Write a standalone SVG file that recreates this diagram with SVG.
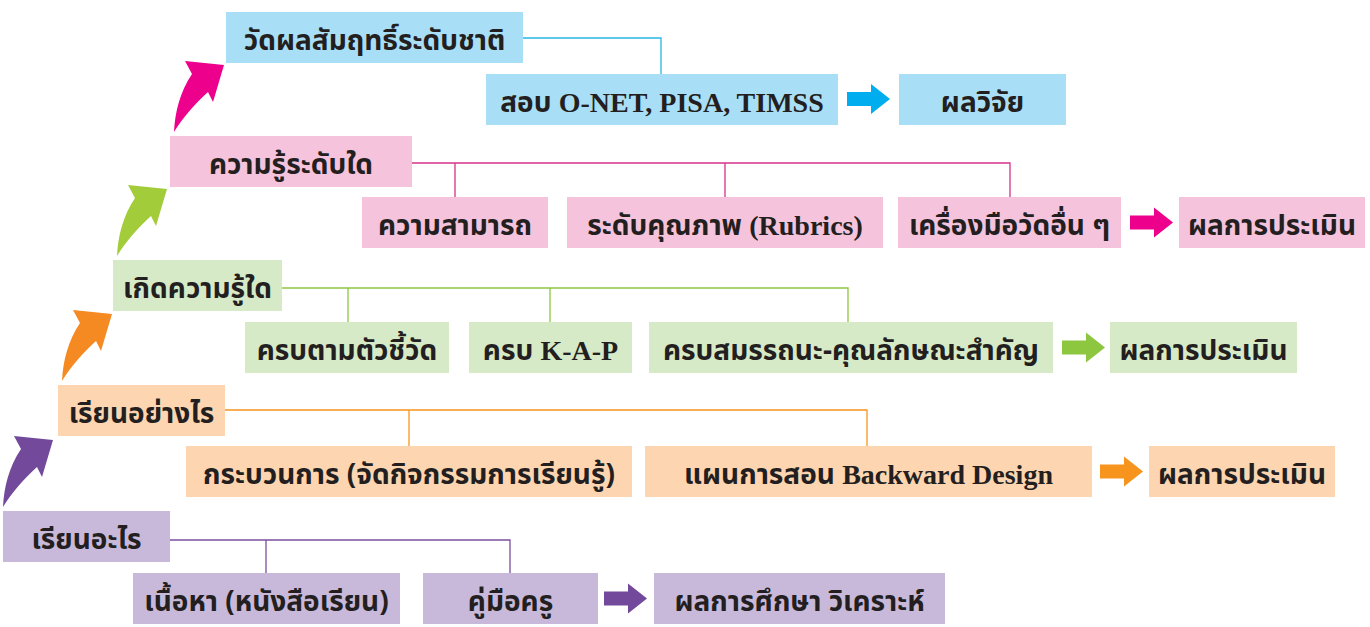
<svg xmlns="http://www.w3.org/2000/svg" width="1370" height="627" viewBox="0 0 1370 627">
<style>
text{font-family:"Noto Sans Thai","Noto Sans","DejaVu Sans",sans-serif;font-weight:bold;font-size:28px;fill:#231f20;text-anchor:middle}
.lat{font-family:"Liberation Serif",serif}
.blue rect{fill:#a9def7}
.pink rect{fill:#f5c3dc}
.green rect{fill:#d7eac7}
.orange rect{fill:#fdd5b0}
.purple rect{fill:#c8b9db}
.con path{fill:none;stroke-width:1.3}
</style>
<defs>
<path id="curve" d="M0,0 C1,-20 6,-40 18,-58 L11,-71 L50,-67 L39,-30 L34,-40 C22,-29 9,-15 0,0 Z"/>
<path id="block" d="M0,-7 H24 V-15 L43,0 L24,15 V7 H0 Z"/>
</defs>
<g id="connectors" class="con">
<path d="M523,38 H661 V74" stroke="#29b6e8"/>
<path d="M412,163 H1010 V197 M455,163 V197 M725,163 V197" stroke="#d6338a"/>
<path d="M282,288 H848 V322 M348,288 V322 M550,288 V322" stroke="#8dc63f"/>
<path d="M225,410 H867 V446 M409,410 V446" stroke="#f7941d"/>
<path d="M170,540 H510 V573 M266,540 V573" stroke="#7b4f9e"/>
</g>
<g id="arrows">
<use href="#curve" x="3" y="507" fill="#734a9b"/>
<use href="#curve" x="62" y="381" fill="#f58a22"/>
<use href="#curve" x="117" y="256" fill="#a2cc3a"/>
<use href="#curve" x="174" y="132" fill="#ec008c"/>
<use href="#block" x="847" y="99" fill="#00aeef"/>
<use href="#block" x="1130" y="222.5" fill="#ec008c"/>
<use href="#block" x="1062" y="347.5" fill="#8dc63f"/>
<use href="#block" x="1100" y="471.5" fill="#f7941d"/>
<use href="#block" x="604" y="598.5" fill="#734a9b"/>
</g>
<g id="n1" class="blue"><rect x="226" y="12" width="297" height="51"/><text x="374.5" y="50">วัดผลสัมฤทธิ์ระดับชาติ</text></g>
<g id="n2" class="blue"><rect x="486" y="74" width="352" height="51"/><text x="662" y="112">สอบ <tspan class="lat">O-NET, PISA, TIMSS</tspan></text></g>
<g id="n3" class="blue"><rect x="899" y="74" width="167" height="51"/><text x="982.5" y="112">ผลวิจัย</text></g>
<g id="n4" class="pink"><rect x="170" y="136" width="242" height="51"/><text x="291" y="174">ความรู้ระดับใด</text></g>
<g id="n5" class="pink"><rect x="362" y="197" width="186" height="51"/><text x="455" y="235">ความสามารถ</text></g>
<g id="n6" class="pink"><rect x="567" y="197" width="316" height="51"/><text x="725" y="235">ระดับคุณภาพ <tspan class="lat">(Rubrics)</tspan></text></g>
<g id="n7" class="pink"><rect x="898" y="197" width="223" height="51"/><text x="1009.5" y="235">เครื่องมือวัดอื่น ๆ</text></g>
<g id="n8" class="pink"><rect x="1179" y="197" width="186" height="51"/><text x="1272" y="235">ผลการประเมิน</text></g>
<g id="n9" class="green"><rect x="113" y="260" width="169" height="51"/><text x="197.5" y="298">เกิดความรู้ใด</text></g>
<g id="n10" class="green"><rect x="245" y="322" width="204" height="51"/><text x="347" y="360">ครบตามตัวชี้วัด</text></g>
<g id="n11" class="green"><rect x="469" y="322" width="163" height="51"/><text x="550.5" y="360">ครบ <tspan class="lat">K-A-P</tspan></text></g>
<g id="n12" class="green"><rect x="649" y="322" width="404" height="51"/><text x="851" y="360">ครบสมรรถนะ-คุณลักษณะสำคัญ</text></g>
<g id="n13" class="green"><rect x="1110" y="322" width="187" height="51"/><text x="1203.5" y="360">ผลการประเมิน</text></g>
<g id="n14" class="orange"><rect x="58" y="385" width="167" height="51"/><text x="141.5" y="423">เรียนอย่างไร</text></g>
<g id="n15" class="orange"><rect x="186" y="446" width="446" height="51"/><text x="409" y="484">กระบวนการ (จัดกิจกรรมการเรียนรู้)</text></g>
<g id="n16" class="orange"><rect x="645" y="446" width="447" height="51"/><text x="868.5" y="484">แผนการสอน <tspan class="lat">Backward Design</tspan></text></g>
<g id="n17" class="orange"><rect x="1149" y="446" width="186" height="51"/><text x="1242" y="484">ผลการประเมิน</text></g>
<g id="n18" class="purple"><rect x="3" y="511" width="167" height="51"/><text x="86.5" y="549">เรียนอะไร</text></g>
<g id="n19" class="purple"><rect x="133" y="573" width="267" height="51"/><text x="266.5" y="611">เนื้อหา (หนังสือเรียน)</text></g>
<g id="n20" class="purple"><rect x="423" y="573" width="175" height="51"/><text x="510.5" y="611">คู่มือครู</text></g>
<g id="n21" class="purple"><rect x="654" y="573" width="291" height="51"/><text x="799.5" y="611">ผลการศึกษา วิเคราะห์</text></g>
</svg>
